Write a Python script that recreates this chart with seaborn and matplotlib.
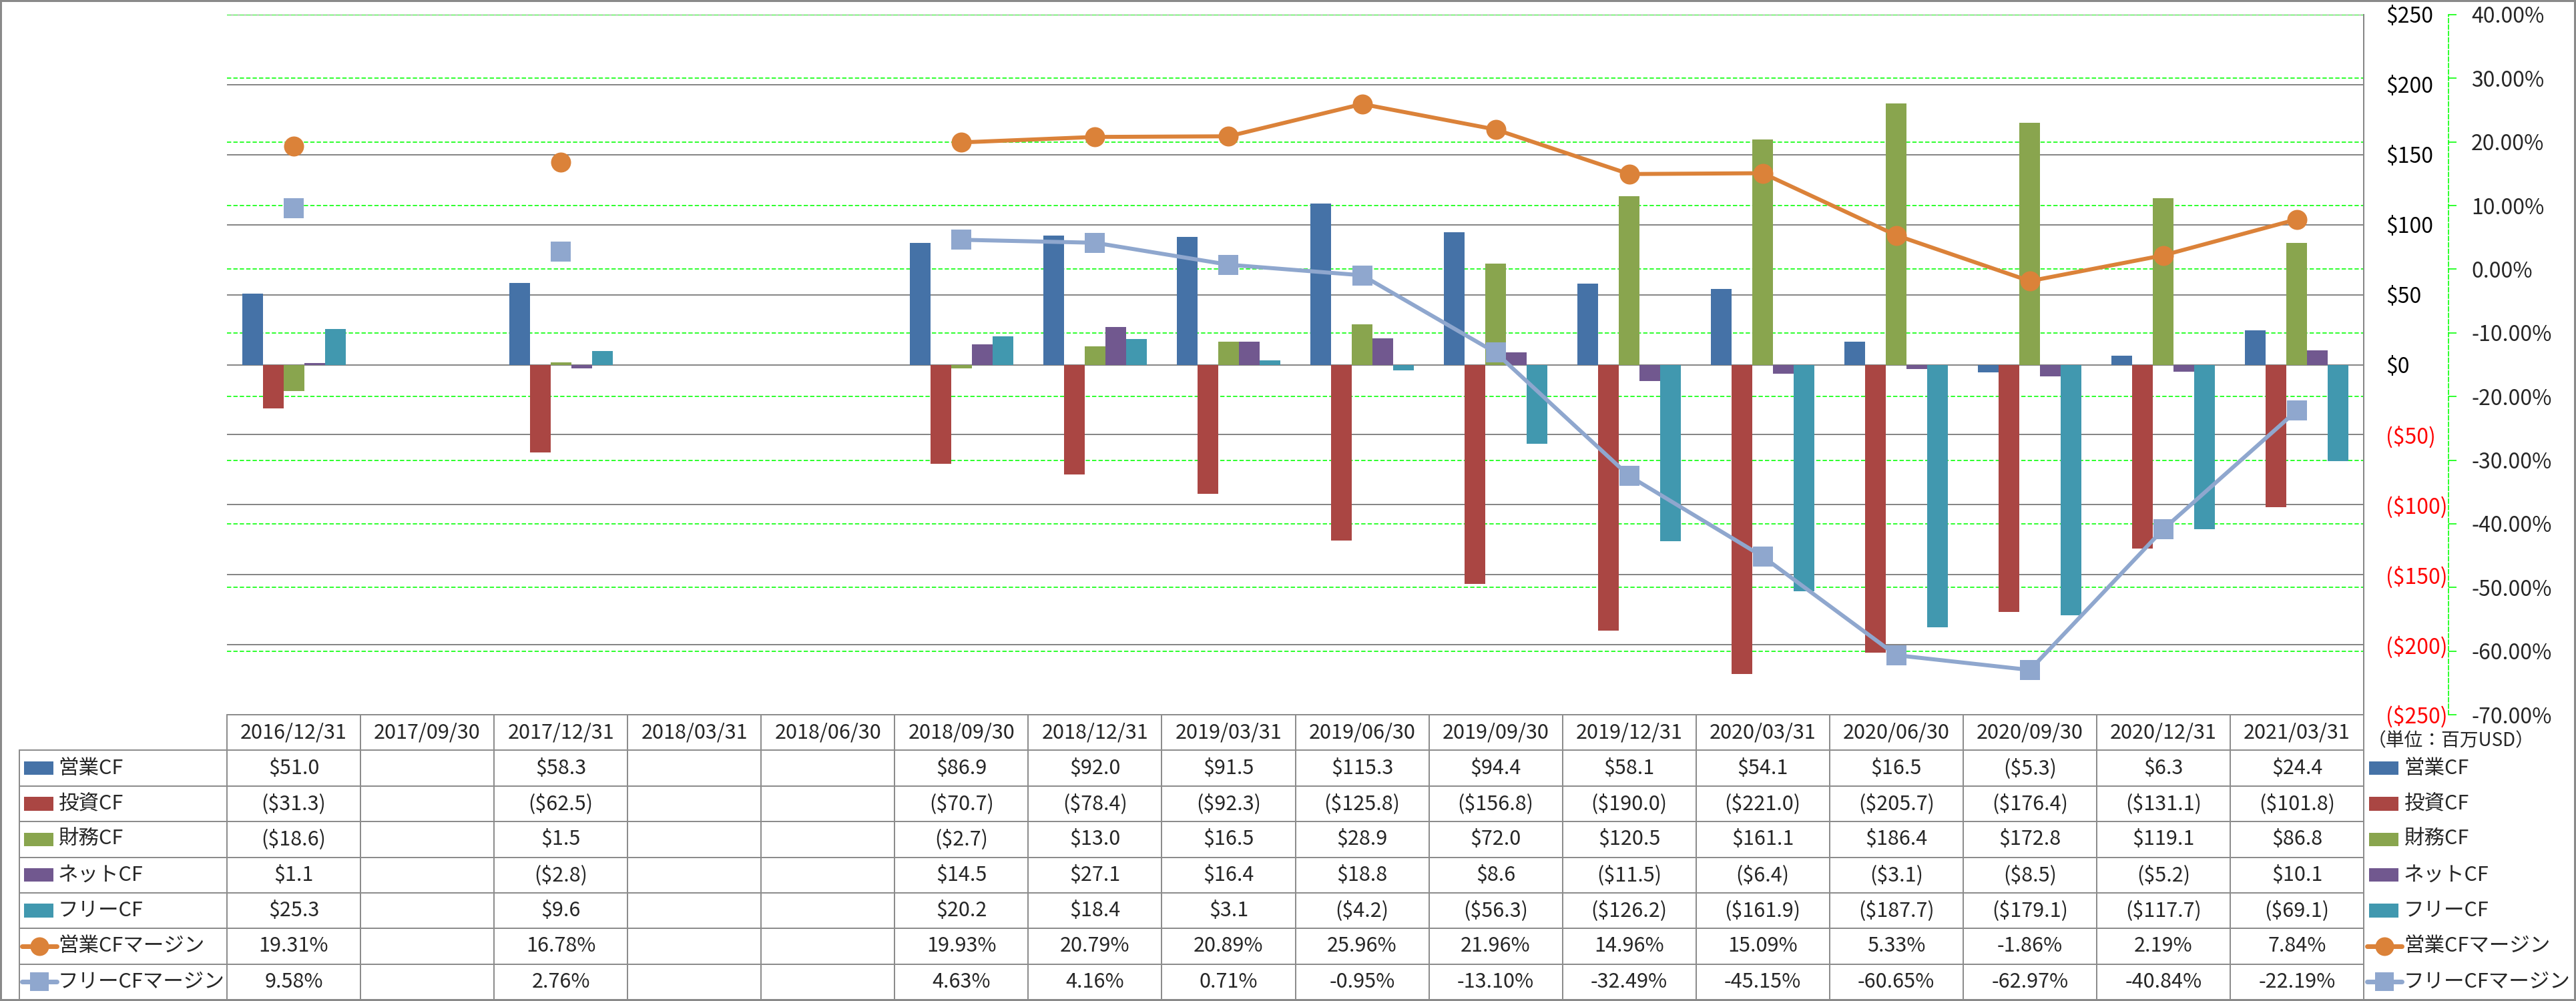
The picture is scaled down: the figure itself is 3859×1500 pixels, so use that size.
import numpy as np
import pandas as pd
import seaborn as sns
import matplotlib
matplotlib.use('Agg')
import matplotlib.pyplot as plt
import matplotlib.transforms as mtransforms
from matplotlib.patches import Rectangle
from matplotlib.lines import Line2D

nan = np.nan

dates = ['2016/12/31', '2017/09/30', '2017/12/31', '2018/03/31', '2018/06/30',
         '2018/09/30', '2018/12/31', '2019/03/31', '2019/06/30', '2019/09/30',
         '2019/12/31', '2020/03/31', '2020/06/30', '2020/09/30', '2020/12/31',
         '2021/03/31']

op_cf = [51.0, nan, 58.3, nan, nan, 86.9, 92.0, 91.5, 115.3, 94.4, 58.1, 54.1, 16.5, -5.3, 6.3, 24.4]
inv_cf = [-31.3, nan, -62.5, nan, nan, -70.7, -78.4, -92.3, -125.8, -156.8, -190.0, -221.0, -205.7, -176.4, -131.1, -101.8]
fin_cf = [-18.6, nan, 1.5, nan, nan, -2.7, 13.0, 16.5, 28.9, 72.0, 120.5, 161.1, 186.4, 172.8, 119.1, 86.8]
net_cf = [1.1, nan, -2.8, nan, nan, 14.5, 27.1, 16.4, 18.8, 8.6, -11.5, -6.4, -3.1, -8.5, -5.2, 10.1]
free_cf = [25.3, nan, 9.6, nan, nan, 20.2, 18.4, 3.1, -4.2, -56.3, -126.2, -161.9, -187.7, -179.1, -117.7, -69.1]
op_margin = [19.31, nan, 16.78, nan, nan, 19.93, 20.79, 20.89, 25.96, 21.96, 14.96, 15.09, 5.33, -1.86, 2.19, 7.84]
free_margin = [9.58, nan, 2.76, nan, nan, 4.63, 4.16, 0.71, -0.95, -13.10, -32.49, -45.15, -60.65, -62.97, -40.84, -22.19]

bar_names = ['営業CF', '投資CF', '財務CF', 'ネットCF', 'フリーCF']
bar_values = [op_cf, inv_cf, fin_cf, net_cf, free_cf]
bar_colors = ['#4572A7', '#AA4643', '#89A54E', '#71588F', '#4198AF']
line_names = ['営業CFマージン', 'フリーCFマージン']
line_values = [op_margin, free_margin]
line_colors = ['#DB8239', '#8FA7CE']
line_markers = ['o', 's']

usd_ticks = list(range(-250, 251, 50))
pct_ticks = list(range(-70, 41, 10))

sns.set_style('white')
plt.rcParams['font.family'] = ['Noto Sans CJK JP', 'DejaVu Sans']

W, H = 3859, 1500
PX = 0.72  # points per pixel at dpi 100
fig = plt.figure(figsize=(W / 100, H / 100), dpi=100)

# plot area in pixels
L, R, T, B = 340, 3541, 22, 1071
ax = fig.add_axes([L / W, (H - B) / H, (R - L) / W, (B - T) / H])

rows = []
for name, vals in zip(bar_names, bar_values):
    for d, v in zip(dates, vals):
        rows.append({'date': d, 'series': name, 'value': v})
df = pd.DataFrame(rows)

sns.barplot(data=df, x='date', y='value', hue='series', order=dates,
            hue_order=bar_names, palette=bar_colors, width=0.775,
            errorbar=None, saturation=1, linewidth=0, legend=False, ax=ax)

ax2 = ax.twinx()
x = np.arange(len(dates))
for vals, c, m in zip(line_values, line_colors, line_markers):
    ax2.plot(x, vals, color=c, lw=6 * PX, marker=m, ms=30 * PX, mec=c, mew=0,
             solid_joinstyle='round')

ax.set_xlim(-0.5, len(dates) - 0.5)
ax.set_ylim(-250, 250)
ax2.set_ylim(-70, 40)

# gridlines
grey = '#868686'
ax.set_yticks(usd_ticks)
ax.yaxis.grid(True, color=grey, lw=2 * PX)
ax.set_axisbelow(True)
trans = mtransforms.blended_transform_factory(ax.transAxes, ax2.transData)
ax.hlines(pct_ticks, 0, 1, transform=trans, colors='#00FF00', lw=1.6 * PX,
          linestyles=(0, (4, 2)), zorder=0.6)

# primary axis (right side)
ax.yaxis.tick_right()
ax.set_yticklabels([f'${v}' if v >= 0 else f'(${-v})' for v in usd_ticks])
for lbl, v in zip(ax.get_yticklabels(), usd_ticks):
    lbl.set_color('red' if v < 0 else 'black')
ax.tick_params(axis='y', length=0, pad=33 * PX, labelsize=23)
ax.tick_params(axis='x', length=0, labelbottom=False)
ax.set_xlabel('')
ax.set_ylabel('')
for s in ['left', 'top', 'bottom']:
    ax.spines[s].set_visible(False)
ax.spines['right'].set_color(grey)
ax.spines['right'].set_linewidth(2 * PX)

# secondary axis
ax2.set_yticks(pct_ticks)
ax2.set_yticklabels([f'{v:.2f}%' for v in pct_ticks])
for lbl, v in zip(ax2.get_yticklabels(), pct_ticks):
    lbl.set_color('red' if v < 0 else 'black')
ax2.tick_params(axis='y', direction='out', length=12 * PX, width=1.6 * PX,
                color='#00FF00', pad=22 * PX, labelsize=23)
for s in ['left', 'top', 'bottom']:
    ax2.spines[s].set_visible(False)
ax2.spines['right'].set_position(('outward', 127 * PX))
ax2.spines['right'].set_color('#00FF00')
ax2.spines['right'].set_linestyle((0, (4, 2)))
ax2.spines['right'].set_linewidth(1.6 * PX)
ax2.set_ylabel('')

# data table
tax = fig.add_axes([L / W, 2 / H, (R - L) / W, 427 / H])
tax.set_xlim(-0.5, len(dates) - 0.5)
tax.set_ylim(8, 0)
tax.axis('off')
xl = -0.5 - (L - 29) / 200
lk = dict(color='#8C8C8C', lw=2 * PX, clip_on=False)
tax.plot([-0.5, 15.5], [0, 0], **lk)
for r in range(1, 9):
    tax.plot([xl, 15.5], [r, r], **lk)
for k in range(len(dates) + 1):
    tax.plot([k - 0.5, k - 0.5], [0, 8], **lk)
tax.plot([xl, xl], [1, 8], **lk)

fs = 22
for i, d in enumerate(dates):
    tax.text(i, 0.5, d, ha='center', va='center', fontsize=fs)


def money(v):
    if np.isnan(v):
        return ''
    return f'${v:.1f}' if v >= 0 else f'(${-v:.1f})'


def pct(v):
    return '' if np.isnan(v) else f'{v:.2f}%'


all_rows = [(n, [money(v) for v in vals]) for n, vals in zip(bar_names, bar_values)]
all_rows += [(n, [pct(v) for v in vals]) for n, vals in zip(line_names, line_values)]
for r, (name, texts) in enumerate(all_rows):
    yc = r + 1.5
    for i, t in enumerate(texts):
        tax.text(i, yc, t, ha='center', va='center', fontsize=fs)


def legend_key(x0, yc, idx):
    if idx < len(bar_names):
        tax.add_patch(Rectangle((x0 + 0.015, yc - 0.19), 0.22, 0.38,
                                color=bar_colors[idx], clip_on=False, lw=0))
    else:
        j = idx - len(bar_names)
        tax.add_line(Line2D([x0, x0 + 0.26], [yc, yc], color=line_colors[j],
                            lw=7 * PX, clip_on=False))
        tax.add_line(Line2D([x0 + 0.13], [yc], color=line_colors[j],
                            marker=line_markers[j], ms=28 * PX, mew=0,
                            clip_on=False))


names = bar_names + line_names
for r, name in enumerate(names):
    yc = r + 1.5
    legend_key(xl + 0.02, yc, r)
    tax.text(xl + 0.29, yc, name, ha='left', va='center', fontsize=fs, clip_on=False)
    legend_key(15.525, yc, r)
    tax.text(15.80, yc, name, ha='left', va='center', fontsize=fs, clip_on=False)

fig.text(3672 / W, (H - 1110) / H, '（単位：百万USD）', ha='center', va='center',
         fontsize=20)

fig.patches.append(Rectangle((0, 0), 1, 1, transform=fig.transFigure, fill=False,
                             edgecolor='#8A8A8A', lw=6 * PX))

fig.savefig('out.png', dpi=100)
